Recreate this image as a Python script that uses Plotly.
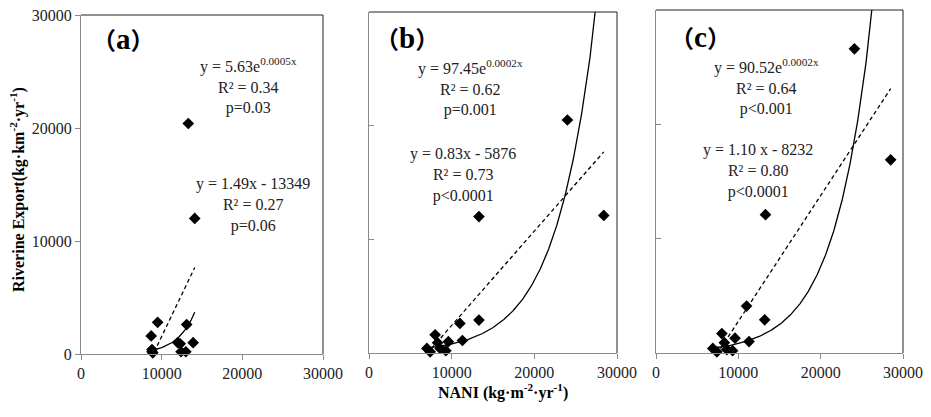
import numpy as np
import plotly.graph_objects as go

# ---------------- data ----------------
nani_a = [13300, 14100, 9500, 8700, 13100, 12000, 12300, 13900, 12400, 13000, 8800, 8800, 8900]
export_a = [20400, 12000, 2800, 1600, 2600, 1000, 900, 1000, 200, 200, 200, 400, 100]

nani_b = [24000, 13300, 28400, 11000, 13300, 8000, 9600, 11300, 8300, 7000, 7400, 8600, 9300]
export_b = [20500, 12000, 12100, 2600, 2900, 1600, 1000, 1100, 900, 400, 100, 400, 200]

nani_c = [24100, 28500, 13300, 11000, 13200, 8000, 9600, 11300, 8300, 6900, 7400, 8600, 9300]
export_c = [26600, 16900, 12100, 4100, 2900, 1700, 1300, 1000, 900, 400, 100, 300, 200]

# trendline parameters (linear: slope, intercept; exponential: a, b as drawn)
lin_a = (1.49, -13349)
lin_b = (0.83, -5876)
lin_c = (1.10, -8232)
exp_a = (5.63, 0.00046)
exp_b = (97.45, 0.000209)
exp_c = (90.52, 0.000221)

panel_letters = ["a", "b", "c"]
exp_texts = ["y = 5.63e<sup>0.0005x</sup><br>R² = 0.34<br>p=0.03",
             "y = 97.45e<sup>0.0002x</sup><br>R² = 0.62<br>p=0.001",
             "y = 90.52e<sup>0.0002x</sup><br>R² = 0.64<br>p<0.001"]
lin_texts = ["y = 1.49x - 13349<br>R² = 0.27<br>p=0.06",
             "y = 0.83x - 5876<br>R² = 0.73<br>p<0.0001",
             "y = 1.10 x - 8232<br>R² = 0.80<br>p<0.0001"]
tick_vals = [0, 10000, 20000, 30000]
tick_text = ["0", "10000", "20000", "30000"]

# ---------------- layout geometry ----------------
W, H = 931, 417
OFF = 8  # page body margin in the browser
FONT = "Liberation Serif, Times New Roman, serif"
CJK = "Noto Sans CJK SC"
AX_COL = "#8a8a8a"


def fx(p):
    return (p - OFF) / W


def fy(p):
    return 1 - (p - OFF) / H


x_doms = [(81, 323), (369, 617), (656, 903)]
y_doms = [(15, 354), (12, 353), (10, 353)]
exp_pos = [(248, 86), (470, 88), (766, 87)]
lin_pos = [(253, 205), (463, 175), (758, 171)]
lbl_pos = [(123, 38), (407, 37), (700, 36)]

fig = go.Figure()

panels = [(nani_a, export_a, lin_a, exp_a),
          (nani_b, export_b, lin_b, exp_b),
          (nani_c, export_c, lin_c, exp_c)]

annotations = []
shapes = []
for i, (xs, ys, lin, ex) in enumerate(panels):
    sfx = "" if i == 0 else str(i + 1)
    xref, yref = "x" + sfx, "y" + sfx
    xmin, xmax = min(xs), max(xs)
    xl = np.array([xmin, xmax], dtype=float)
    xe = np.linspace(xmin, xmax, 300)
    fig.add_trace(go.Scatter(x=xs, y=ys, mode="markers", xaxis=xref, yaxis=yref,
                             marker=dict(symbol="diamond", size=9, color="black",
                                         line=dict(width=0)),
                             showlegend=False, cliponaxis=False))
    fig.add_trace(go.Scatter(x=xl, y=lin[0] * xl + lin[1], mode="lines",
                             xaxis=xref, yaxis=yref,
                             line=dict(color="black", width=1.3, dash="4px,3px"),
                             showlegend=False))
    fig.add_trace(go.Scatter(x=xe, y=ex[0] * np.exp(ex[1] * xe), mode="lines",
                             xaxis=xref, yaxis=yref,
                             line=dict(color="black", width=1.3),
                             showlegend=False))

    xd = [fx(x_doms[i][0]), fx(x_doms[i][1])]
    yd = [fy(y_doms[i][1]), fy(y_doms[i][0])]
    fig.layout["xaxis" + sfx] = dict(
        domain=xd, range=[0, 30000], tickvals=tick_vals, ticktext=tick_text,
        showline=True, linecolor=AX_COL, linewidth=1, ticks="outside", ticklen=5,
        tickcolor=AX_COL, showgrid=False, zeroline=False, anchor=yref,
        automargin=False, ticklabeloverflow="allow",
        tickfont=dict(family=FONT, size=16, color="#222"), fixedrange=True)
    fig.layout["yaxis" + sfx] = dict(
        domain=yd, range=[0, 30000], tickvals=tick_vals, ticktext=tick_text,
        showline=True, linecolor=AX_COL, linewidth=1,
        ticks="outside" if i == 0 else "inside", ticklen=5,
        tickcolor=AX_COL, showgrid=False, zeroline=False, anchor=xref,
        showticklabels=(i == 0), automargin=False, ticklabeloverflow="allow",
        tickfont=dict(family=FONT, size=16, color="#222"), fixedrange=True)

    # top and right frame lines
    shapes.append(dict(type="line", xref=xref + " domain", yref=yref + " domain",
                       x0=0, x1=1, y0=1, y1=1, line=dict(color="#222", width=1)))
    shapes.append(dict(type="line", xref=xref + " domain", yref=yref + " domain",
                       x0=1, x1=1, y0=0, y1=1, line=dict(color="#222", width=1)))

    label = ("<b><span style='font-family:%s;font-size:24px'>（</span>%s"
             "<span style='font-family:%s;font-size:24px'>）</span></b>") % (
        CJK, panel_letters[i], CJK)
    annotations.append(dict(xref="paper", yref="paper", x=fx(lbl_pos[i][0]),
                            y=fy(lbl_pos[i][1]), xanchor="center", yanchor="middle",
                            text=label, showarrow=False,
                            font=dict(family=FONT, size=29, color="black")))
    annotations.append(dict(xref="paper", yref="paper", x=fx(exp_pos[i][0]),
                            y=fy(exp_pos[i][1]), xanchor="center", yanchor="middle",
                            align="center", text=exp_texts[i], showarrow=False,
                            font=dict(family=FONT, size=16, color="#222")))
    annotations.append(dict(xref="paper", yref="paper", x=fx(lin_pos[i][0]),
                            y=fy(lin_pos[i][1]), xanchor="center", yanchor="middle",
                            align="center", text=lin_texts[i], showarrow=False,
                            font=dict(family=FONT, size=16, color="#222")))

annotations.append(dict(xref="paper", yref="paper", x=fx(18), y=fy(190),
                        xanchor="center", yanchor="middle", textangle=-90,
                        text="<b>Riverine Export(kg·km<sup>-2</sup>·yr<sup>-1</sup>)</b>",
                        showarrow=False, font=dict(family=FONT, size=16, color="black")))
annotations.append(dict(xref="paper", yref="paper", x=fx(503), y=fy(391),
                        xanchor="center", yanchor="middle",
                        text="<b>NANI (kg·m<sup>-2</sup>·yr<sup>-1</sup>)</b>",
                        showarrow=False, font=dict(family=FONT, size=16, color="black")))

fig.update_layout(width=W, height=H, margin=dict(l=0, r=0, t=0, b=0),
                  template="none",
                  paper_bgcolor="white", plot_bgcolor="white",
                  annotations=annotations, shapes=shapes, showlegend=False)

fig.write_html("out.html")
